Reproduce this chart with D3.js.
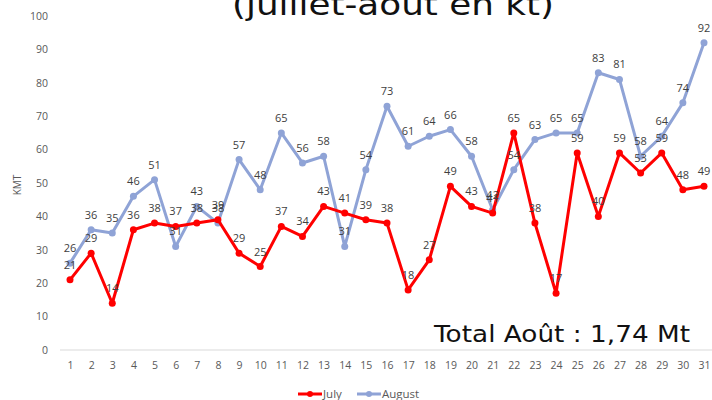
<!DOCTYPE html>
<html>
<head>
<meta charset="utf-8">
<script src="https://cdn.jsdelivr.net/npm/d3@7"></script>
<style>
  body { margin: 0; background: #fff; }
  svg { display: block; }
</style>
</head>
<body>
<svg id="chart" width="712" height="400"></svg>
<script>
// data
const days = d3.range(1, 32);
const july = [21, 29, 14, 36, 38, 37, 38, 39, 29, 25, 37, 34, 43, 41, 39, 38, 18, 27, 49, 43, 41, 65, 38, 17, 59, 40, 59, 53, 59, 48, 49];
const august = [26, 36, 35, 46, 51, 31, 43, 38, 57, 48, 65, 56, 58, 31, 54, 73, 61, 64, 66, 58, 42, 54, 63, 65, 65, 83, 81, 58, 64, 74, 92];
const yTicks = [0, 10, 20, 30, 40, 50, 60, 70, 80, 90, 100];
const titleText = "(juillet-août en kt)";
const totalText = "Total Août : 1,74 Mt";

const series = [
  { name: "July", values: july, color: "#ff0000" },
  { name: "August", values: august, color: "#8fa3d6" },
];

const svg = d3.select("#chart");

const x = d3.scalePoint().domain(days).range([70, 704]);
const y = d3.scaleLinear().domain([0, 100]).range([350, 16]);

// title (cut off by the top edge in the original)
svg.append("text")
  .attr("x", 393)
  .attr("y", 15)
  .attr("text-anchor", "middle")
  .attr("textLength", 322)
  .attr("lengthAdjust", "spacingAndGlyphs")
  .style("font-family", "'DejaVu Sans', sans-serif")
  .style("font-size", "30px")
  .style("fill", "#111")
  .text(titleText);

// baseline
svg.append("line")
  .attr("x1", 60).attr("x2", 712)
  .attr("y1", y(0)).attr("y2", y(0))
  .attr("stroke", "#d9d9d9");

// y axis labels
svg.append("g")
  .attr("transform", "translate(48,0)")
  .call(d3.axisLeft(y).tickValues(yTicks).tickSize(0).tickPadding(0))
  .call((g) => g.select(".domain").remove())
  .selectAll("text")
  .style("font-family", "'Open Sans', sans-serif")
  .style("font-size", "10.5px")
  .style("fill", "#595959");

// x axis labels
svg.append("g")
  .attr("transform", `translate(0,${y(0)})`)
  .call(d3.axisBottom(x).tickSize(0).tickPadding(12))
  .call((g) => g.select(".domain").remove())
  .selectAll("text")
  .style("font-family", "'Open Sans', sans-serif")
  .style("font-size", "10.5px")
  .style("fill", "#595959");

// y title
svg.append("text")
  .attr("transform", "translate(21,185) rotate(-90)")
  .attr("text-anchor", "middle")
  .style("font-family", "'Open Sans', sans-serif")
  .style("font-size", "10px")
  .style("fill", "#595959")
  .text("KMT");

// total note
svg.append("text")
  .attr("x", 434)
  .attr("y", 342)
  .attr("textLength", 256)
  .attr("lengthAdjust", "spacingAndGlyphs")
  .style("font-family", "'DejaVu Sans', sans-serif")
  .style("font-size", "23px")
  .style("fill", "#111")
  .text(totalText);

const line = d3.line()
  .x((d, i) => x(days[i]))
  .y((d) => y(d));

// August first so July sits on top
const order = [series[1], series[0]];

order.forEach((s) => {
  const g = svg.append("g");
  g.append("path")
    .datum(s.values)
    .attr("d", line)
    .attr("fill", "none")
    .attr("stroke", s.color)
    .attr("stroke-width", 3)
    .attr("stroke-linejoin", "round");
  g.selectAll("circle")
    .data(s.values)
    .join("circle")
    .attr("cx", (d, i) => x(days[i]))
    .attr("cy", (d) => y(d))
    .attr("r", 3.5)
    .attr("fill", s.color);
});

// value labels
order.forEach((s) => {
  svg.append("g")
    .selectAll("text")
    .data(s.values)
    .join("text")
    .attr("x", (d, i) => x(days[i]))
    .attr("y", (d) => y(d) - 11)
    .attr("text-anchor", "middle")
    .style("font-family", "'Open Sans', sans-serif")
    .style("font-size", "11px")
    .style("fill", "#404040")
    .text((d) => d);
});

// legend
const legend = svg.append("g").attr("transform", "translate(0,394)");
const legendX = [298, 357];
series.forEach((s, i) => {
  const lg = legend.append("g").attr("transform", `translate(${legendX[i]},0)`);
  lg.append("line")
    .attr("x1", 0).attr("x2", 24)
    .attr("stroke", s.color)
    .attr("stroke-width", 3);
  lg.append("circle")
    .attr("cx", 12).attr("r", 3)
    .attr("fill", s.color);
  lg.append("text")
    .attr("x", 25)
    .attr("dy", "0.35em")
    .style("font-family", "'Open Sans', sans-serif")
    .style("font-size", "11.5px")
    .style("fill", "#595959")
    .text(s.name);
});
</script>
</body>
</html>
